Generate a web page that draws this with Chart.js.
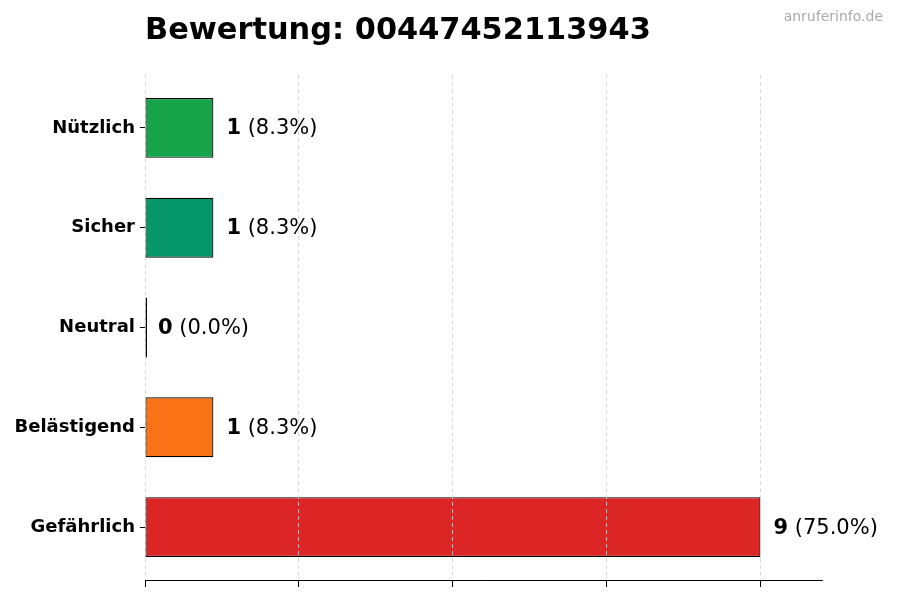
<!DOCTYPE html>
<html>
<head>
<meta charset="utf-8">
<script src="https://cdn.jsdelivr.net/npm/chart.js@4/dist/chart.umd.min.js"></script>
<style>
html,body{margin:0;padding:0;background:#fff;}
#wrap{width:900px;height:600px;position:relative;}
</style>
</head>
<body>
<div id="wrap"><canvas id="c" width="900" height="600"></canvas></div>
<script>
const titleText = "Bewertung: 00447452113943";
const watermark = "anruferinfo.de";
const categories = ["Nützlich", "Sicher", "Neutral", "Belästigend", "Gefährlich"];
const counts = [1, 1, 0, 1, 9];
const barColors = ["#16a34a", "#059669", "#6b7280", "#f97316", "#dc2626"];
const xTicks = [0, 2.25, 4.5, 6.75, 9];
const xMax = 9.9;

const FONT = "'DejaVu Sans', sans-serif";
const total = counts.reduce((a, b) => a + b, 0);
const points = counts.map((v, i) => ({ x: v, y: i }));

const decorPlugin = {
  id: 'decor',
  afterDraw(chart) {
    const ctx = chart.ctx;
    const xs = chart.scales.x;
    const meta = chart.getDatasetMeta(0);
    ctx.save();
    ctx.fillStyle = '#000';
    ctx.textBaseline = 'middle';
    ctx.textAlign = 'left';
    ctx.font = "bold 30.4px " + FONT;
    ctx.fillText(titleText, chart.chartArea.left, 31);
    ctx.font = "14px " + FONT;
    ctx.fillStyle = '#aaaaaa';
    ctx.textAlign = 'right';
    ctx.fillText(watermark, 883, 17);
    meta.data.forEach((bar, i) => {
      const v = counts[i];
      const pct = total ? (v / total * 100).toFixed(1) : '0.0';
      const x0 = xs.getPixelForValue(v) + 13;
      const y = bar.y + 1;
      ctx.textAlign = 'left';
      ctx.fillStyle = '#000';
      ctx.font = "bold 21px " + FONT;
      const s1 = String(v);
      ctx.fillText(s1, x0, y);
      const w1 = ctx.measureText(s1).width;
      ctx.font = "21px " + FONT;
      ctx.fillText(" (" + pct + "%)", x0 + w1, y);
    });
    ctx.restore();
  }
};

new Chart(document.getElementById('c'), {
  type: 'bar',
  data: {
    datasets: [{
      data: points,
      backgroundColor: barColors,
      borderColor: '#000',
      borderWidth: 1.2,
      borderSkipped: false,
      barPercentage: 0.6,
      categoryPercentage: 1.0,
      minBarLength: 2
    }]
  },
  options: {
    indexAxis: 'y',
    responsive: false,
    animation: false,
    devicePixelRatio: 1,
    layout: { padding: { top: 75, right: 78, left: 0, bottom: 0 } },
    plugins: { legend: { display: false }, tooltip: { enabled: false }, title: { display: false } },
    scales: {
      x: {
        type: 'linear',
        min: 0,
        max: xMax,
        afterBuildTicks(scale) { scale.ticks = xTicks.map(v => ({ value: v })); },
        afterFit(scale) { scale.height = 20; },
        ticks: { display: false },
        grid: {
          z: 1,
          color: '#cfcfcf',
          lineWidth: 0.8,
          drawTicks: true,
          tickLength: 7,
          tickColor: '#000',
          tickWidth: 1,
          tickBorderDash: []
        },
        border: { display: true, color: '#000', width: 1, z: 1, dash: [4, 3] }
      },
      y: {
        type: 'linear',
        reverse: true,
        offset: false,
        min: -0.53,
        max: categories.length - 1 + 0.53,
        afterBuildTicks(scale) { scale.ticks = categories.map((c, i) => ({ value: i })); },
        afterFit(scale) { scale.width = 145; },
        ticks: {
          color: '#000',
          padding: 5,
          font: { family: FONT, size: 18, weight: 'bold' },
          callback: (v) => categories[v]
        },
        grid: {
          offset: false,
          drawOnChartArea: false,
          drawTicks: true,
          tickLength: 5,
          tickColor: '#000',
          tickWidth: 1
        },
        border: { display: false }
      }
    }
  },
  plugins: [decorPlugin]
});
</script>
</body>
</html>
